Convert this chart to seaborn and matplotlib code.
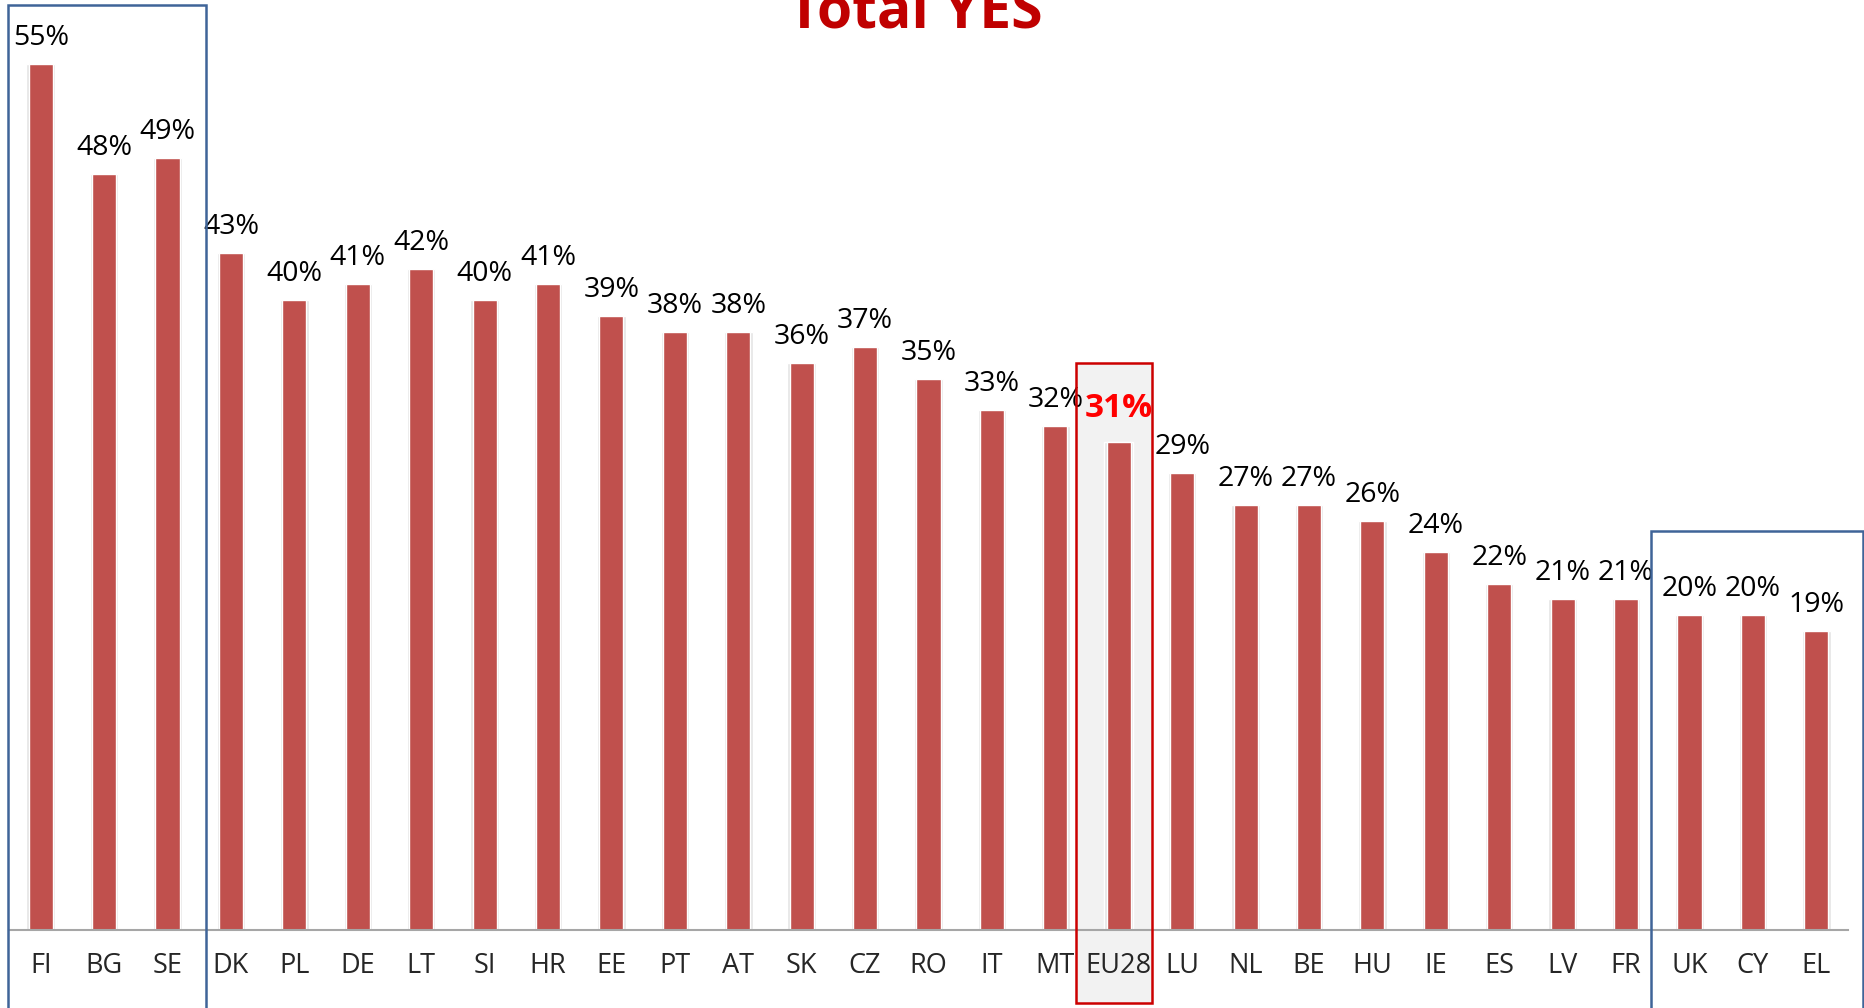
import matplotlib.pyplot as plt
import matplotlib.transforms as mtransforms
from matplotlib.patches import Rectangle
import seaborn as sns
import pandas as pd

# data
countries = ["FI", "BG", "SE", "DK", "PL", "DE", "LT", "SI", "HR", "EE", "PT", "AT",
             "SK", "CZ", "RO", "IT", "MT", "EU28", "LU", "NL", "BE", "HU", "IE", "ES",
             "LV", "FR", "UK", "CY", "EL"]
yes_pct = [55, 48, 49, 43, 40, 41, 42, 40, 41, 39, 38, 38,
           36, 37, 35, 33, 32, 31, 29, 27, 27, 26, 24, 22,
           21, 21, 20, 20, 19]
title = "Total YES"
highlight = "EU28"

sns.set_style("white")
plt.rcParams["font.family"] = ["Open Sans", "DejaVu Sans"]

df = pd.DataFrame({"country": countries, "value": yes_pct})

fig = plt.figure(figsize=(18.64, 10.08), dpi=100)
ax = fig.add_axes([9 / 1864, 78 / 1008, 1839 / 1864, 930 / 1008])

# soft shadow behind bars
sns.barplot(data=df, x="country", y="value", color="#E4E4E4", width=0.45,
            saturation=1, ax=ax, zorder=1)
sns.barplot(data=df, x="country", y="value", color="#C0504D", width=0.38,
            saturation=1, ax=ax, zorder=2)

ax.set_xlim(-0.5, len(countries) - 0.5)
ax.set_ylim(0, 930 / 15.75)
ax.set_xlabel("")
ax.set_ylabel("")
ax.set_yticks([])
for s in ["top", "right", "left"]:
    ax.spines[s].set_visible(False)
ax.spines["bottom"].set_color("#A6A6A6")
ax.spines["bottom"].set_linewidth(1.5)

ax.set_xticks(range(len(countries)))
ax.set_xticklabels(countries, fontsize=19.5)
ax.set_xticks([i - 0.5 for i in range(len(countries) + 1)], minor=True)
ax.tick_params(axis="x", which="major", length=0, pad=16)
ax.tick_params(axis="x", which="minor", length=6, width=1.5, color="#A6A6A6",
               direction="out")

# value labels
for i, (c, v) in enumerate(zip(countries, yes_pct)):
    if c == highlight:
        ax.text(i, v + 1.6, f"{v}%", ha="center", va="baseline", fontsize=24,
                fontweight="bold", color="#FF0000", zorder=5)
    else:
        ax.text(i, v + 1.2, f"{v}%", ha="center", va="baseline", fontsize=20.5,
                color="black", zorder=5)

# group boxes
trans = mtransforms.blended_transform_factory(ax.transData, ax.transAxes)
blue = "#3F6498"
ax.add_patch(Rectangle((-0.52, -0.09), 3.12, 1.085, transform=trans, fill=False,
                       edgecolor=blue, linewidth=1.8, clip_on=False, zorder=6))
ax.add_patch(Rectangle((25.4, -0.09), 3.33, 0.519, transform=trans, fill=False,
                       edgecolor=blue, linewidth=1.8, clip_on=False, zorder=6))
hi = countries.index(highlight)
ax.add_patch(Rectangle((hi - 0.67, -0.078), 1.2, 0.688, transform=trans,
                       facecolor="#F2F2F2", edgecolor="none", clip_on=False, zorder=0.5))
ax.add_patch(Rectangle((hi - 0.67, -0.078), 1.2, 0.688, transform=trans, fill=False,
                       edgecolor="#CC0000", linewidth=1.8, clip_on=False, zorder=6))

fig.text(915 / 1864, 1 - 27 / 1008, title, ha="center", va="baseline",
         fontsize=41, fontweight="bold", color="#C00000")

fig.savefig("out.png", dpi=100)
